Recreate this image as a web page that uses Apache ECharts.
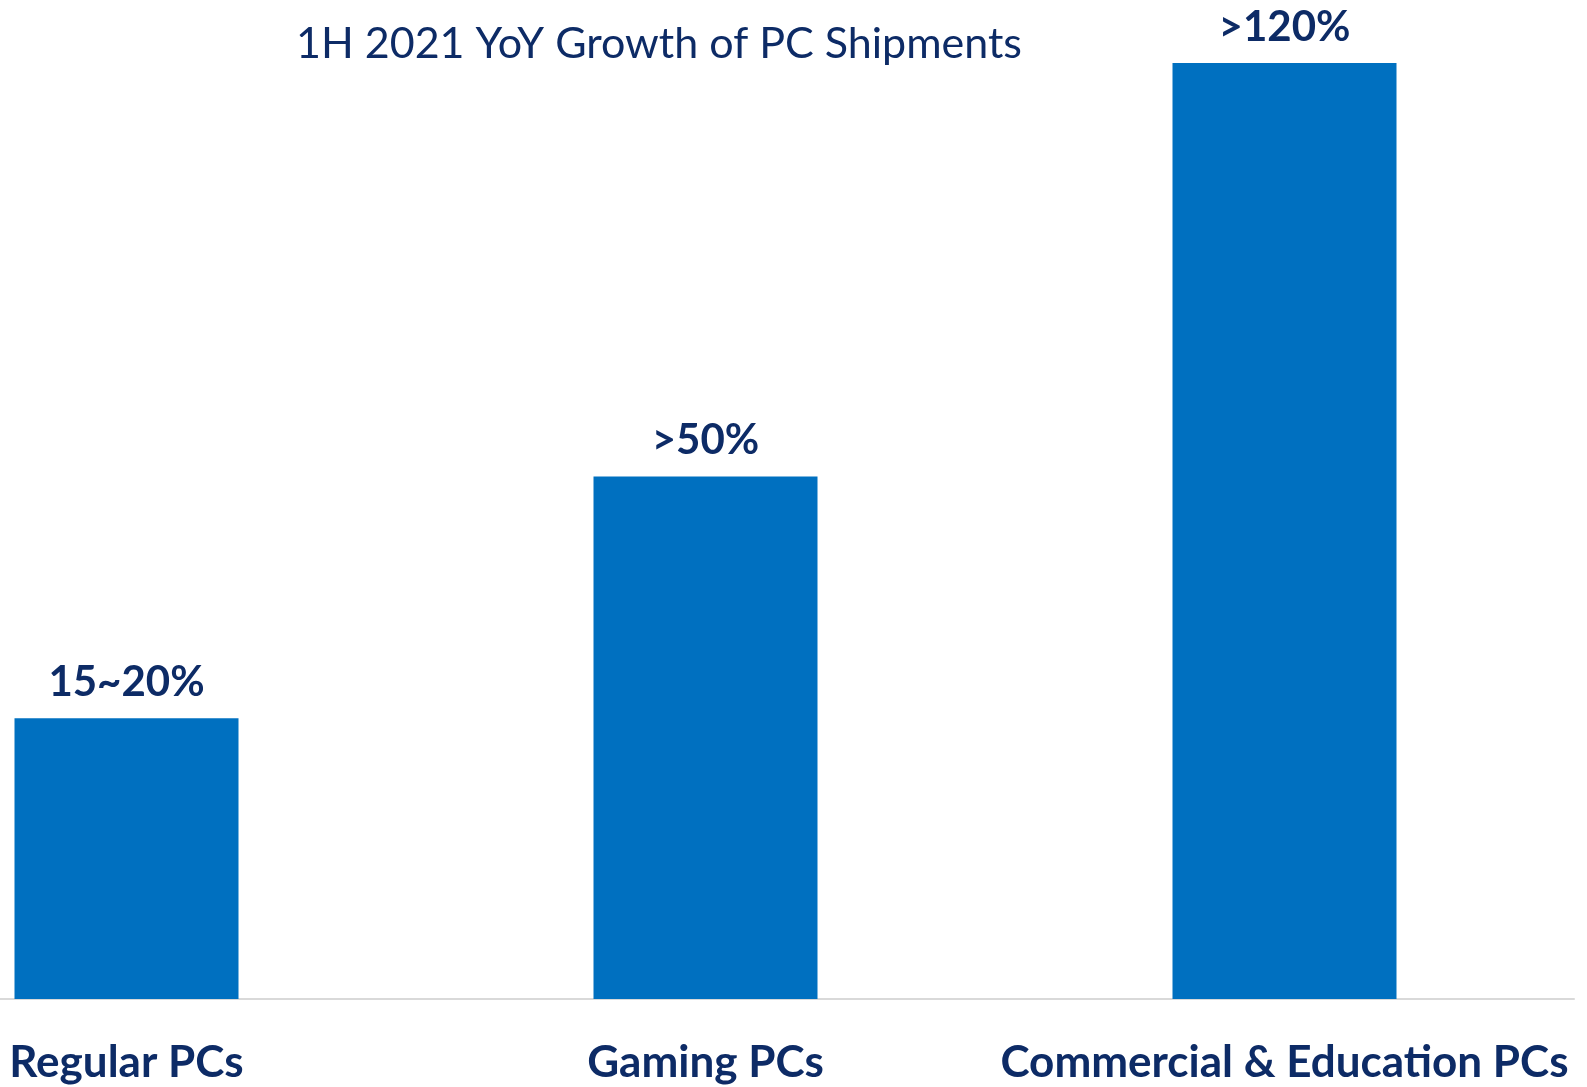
<!DOCTYPE html>
<html>
<head>
<meta charset="utf-8">
<script src="https://cdn.jsdelivr.net/npm/echarts@6/dist/echarts.min.js"></script>
<style>
  html, body { margin: 0; padding: 0; background: #ffffff; overflow: hidden; }
  /* the plot's first band starts left of the page edge */
  #chart { width: 1750px; height: 1087px; margin-left: -163px; }
</style>
</head>
<body>
<div id="chart"></div>
<script>
// PC shipment segments and their first-half 2021 year-over-year growth
const categories = ['Regular PCs', 'Gaming PCs', 'Commercial & Education PCs'];
// relative bar heights (growth index, %)
const growthValues = [36, 67, 120];
// the growth text printed above each bar
const growthLabels = ['15~20%', '>50%', '>120%'];

const NAVY = '#0d2b66';
const BLUE = '#0070c0';
const SHIFT = 163;

const chart = echarts.init(document.getElementById('chart'));

chart.setOption({
  animation: false,
  backgroundColor: '#ffffff',
  title: {
    text: '1H 2021 YoY Growth of PC Shipments',
    left: 291 + SHIFT,
    top: 18,
    textStyle: {
      fontFamily: 'Lato',
      fontWeight: 'normal',
      fontSize: 43,
      color: NAVY
    }
  },
  grid: {
    left: 0,
    right: 13,
    top: 63,
    bottom: 88,
    containLabel: false
  },
  xAxis: {
    type: 'category',
    data: categories,
    axisLine: { show: true, lineStyle: { color: '#d9d9d9', width: 2 } },
    axisTick: { show: false },
    axisLabel: {
      interval: 0,
      margin: 42,
      fontFamily: 'Lato',
      fontWeight: 'bold',
      fontSize: 44,
      color: NAVY
    }
  },
  yAxis: {
    type: 'value',
    min: 0,
    max: 120,
    show: false,
    splitLine: { show: false }
  },
  series: [{
    type: 'bar',
    data: growthValues,
    barWidth: 224,
    itemStyle: { color: BLUE },
    label: {
      show: true,
      position: 'top',
      distance: 15,
      fontFamily: 'Lato',
      fontWeight: 'bold',
      fontSize: 42,
      color: NAVY,
      formatter: (p) => growthLabels[p.dataIndex]
    }
  }]
});
</script>
</body>
</html>
